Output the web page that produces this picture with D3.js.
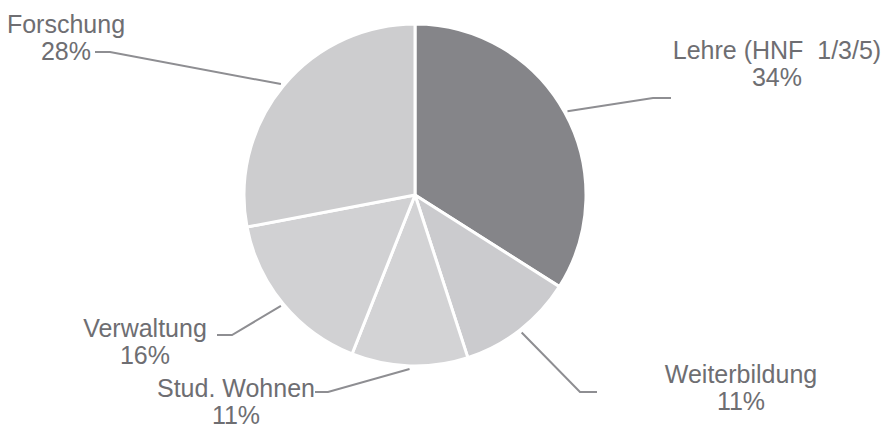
<!DOCTYPE html>
<html><head><meta charset="utf-8">
<script src="https://cdn.jsdelivr.net/npm/d3@7"></script>
<style>html,body{margin:0;padding:0;background:#fff;}svg{display:block;}</style>
</head><body>
<svg id="chart" width="881" height="429"></svg>
<script>
// Data
const categories = ["Lehre (HNF  1/3/5)", "Weiterbildung", "Stud. Wohnen", "Verwaltung", "Forschung"];
const values = [34, 11, 11, 16, 28];
const percentLabels = ["34%", "11%", "11%", "16%", "28%"];

// Layout (label anchors / leader elbows) — not data
const labelLayout = [
  {tx: 777, ty: 59, elbow: [653, 98], end: [671, 98]},
  {tx: 741, ty: 383, elbow: [580, 392], end: [597, 392]},
  {tx: 236, ty: 397, elbow: [328, 392], end: [315, 392]},
  {tx: 145, ty: 337, elbow: [232, 335], end: [217, 335]},
  {tx: 66, ty: 33, elbow: [110, 52], end: [95, 52]}
];
const fills = ["#858589", "#cbcbce", "#d3d3d5", "#d1d1d3", "#cdcdcf"];

const svg = d3.select("#chart");
const cx = 415, cy = 195, R = 171;
const g = svg.append("g").attr("transform", `translate(${cx},${cy})`);

const pie = d3.pie().sort(null).value(d => d)(values);
const arc = d3.arc().innerRadius(0).outerRadius(R);

g.selectAll("path.slice").data(pie).join("path")
  .attr("class", "slice")
  .attr("d", arc)
  .attr("fill", (d, i) => fills[i])
  .attr("stroke", "#fff")
  .attr("stroke-width", 3)
  .attr("stroke-linejoin", "round");

// leader lines
const lineGen = d3.line();
pie.forEach((d, i) => {
  const a = (d.startAngle + d.endAngle) / 2;
  const r0 = R + 3;
  const sx = cx + r0 * Math.sin(a), sy = cy - r0 * Math.cos(a);
  const L = labelLayout[i];
  svg.append("path")
    .attr("d", lineGen([[sx, sy], L.elbow, L.end]))
    .attr("fill", "none")
    .attr("stroke", "#8e8e92")
    .attr("stroke-width", 2);
  const t = svg.append("text")
    .attr("x", L.tx).attr("y", L.ty)
    .attr("text-anchor", "middle")
    .attr("font-family", "Liberation Sans, Arial, sans-serif")
    .attr("font-size", 25)
    .attr("fill", "#6e6e72")
    .attr("xml:space", "preserve")
    .style("white-space", "pre");
  t.append("tspan").attr("x", L.tx).text(categories[i]);
  t.append("tspan").attr("x", L.tx).attr("dy", 27).text(percentLabels[i]);
});
</script>
</body></html>
